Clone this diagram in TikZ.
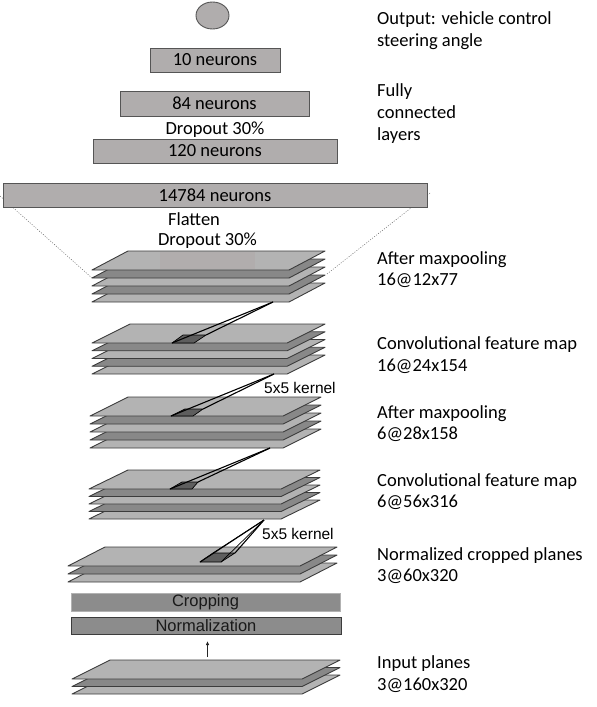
\documentclass[tikz,border=0pt]{standalone}
\usepackage{fontspec}
\setmainfont{Carlito}
\newfontfamily\arialf{Liberation Sans}
\usetikzlibrary{arrows.meta,shapes.geometric,calc}
\definecolor{planelight}{HTML}{B3B3B3}
\definecolor{planedark}{HTML}{888888}
\definecolor{planeedge}{HTML}{3C3C3C}
\definecolor{boxfill}{HTML}{B0ADAD}
\definecolor{boxedge}{HTML}{555555}
\definecolor{procfill}{HTML}{8C8C8C}
\definecolor{kernelfill}{HTML}{5E5E5E}
\definecolor{ghostfill}{HTML}{B1ADAD}
\newcommand{\planestack}[6]{%
  \foreach \i in {#5,...,0}{%
    \pgfmathtruncatemacro{\odd}{mod(\i,2)}%
    \ifnum\odd=1 \def\pcol{planedark}\else\def\pcol{planelight}\fi
    \filldraw[planeshape, fill=\pcol] (#1,{#3+\i*#6}) -- (#2,{#3+\i*#6}) -- ({#2-#4},{#3+19+\i*#6}) -- ({#1-#4},{#3+19+\i*#6}) -- cycle;
  }}
\begin{document}
\begin{tikzpicture}[x=1pt,y=-1pt,
  planeshape/.style={draw=planeedge, line width=0.9pt, line join=round},
  nbox/.style={draw=boxedge, fill=boxfill, line width=0.9pt, inner sep=0pt, font=\fontsize{18.5}{21.5}\selectfont},
  pbox/.style={fill=procfill, inner sep=0pt, font=\arialf\fontsize{16.5}{18}\selectfont, text=black!90},
  lbl/.style={anchor=base west, inner sep=0pt, font=\fontsize{18.5}{21.5}\selectfont},
  midtxt/.style={anchor=base, inner sep=0pt, font=\fontsize{18.5}{21.5}\selectfont},
  ktxt/.style={anchor=base west, inner sep=0pt, font=\arialf\fontsize{15.5}{18}\selectfont},
  kernel/.style={fill=kernelfill, draw=black, line width=0.7pt, line join=round},
  kline/.style={draw=black, line width=1.1pt},
  proj/.style={draw=black!60, line width=0.5pt, dash pattern=on 1pt off 1.5pt}]
\useasboundingbox (0,0) rectangle (597,707);

% projection lines
\coordinate (pl1) at (0,196);
\coordinate (pl2) at (92,278);
\coordinate (pr1) at (430,193);
\coordinate (pr2) at (327,274);
\draw[proj] (pl1) -- (pl2);
\draw[proj] (pr1) -- (pr2);

% output and dense layers
\node[ellipse, draw=boxedge, fill=boxfill, line width=0.9pt, minimum width=33pt, minimum height=27pt, inner sep=0pt] (out) at (212.5,15.5) {};
\node[nbox, minimum width=130pt, minimum height=24pt] (n10) at (215,60) {10 neurons};
\node[nbox, minimum width=189pt, minimum height=25pt] (n84) at (214.5,103.5) {84 neurons};
\node[midtxt] (drop1) at (215,134) {Dropout 30\%};
\node[nbox, minimum width=244pt, minimum height=24pt] (n120) at (215,151) {120 neurons};
\node[nbox, minimum width=424pt, minimum height=24pt] (n14784) at (215,195) {14784 neurons};
\node[midtxt] (flat) at (194,225) {Flatten};
\node[midtxt] (drop2) at (207.5,245) {Dropout 30\%};

% feature map stacks
\planestack{128}{325}{251}{36}{4}{8}
\fill[ghostfill] (160,251.6) rectangle (255,269.4);
\planestack{130}{325}{324}{38}{4}{7.75}
\planestack{128}{321}{397}{38}{4}{8}
\planestack{128}{320}{470}{39}{4}{7.5}
\planestack{105}{337}{547}{37}{2}{8}
\planestack{110}{340}{660}{38}{2}{7.5}

% kernels
\coordinate (k1a) at (273,302);
\coordinate (k1bl) at (172,343); \coordinate (k1br) at (194,343);
\coordinate (k1tr) at (206,335); \coordinate (k1tl) at (183,335);
\filldraw[kernel] (k1bl) -- (k1br) -- (k1tr) -- (k1tl) -- cycle;
\draw[kline] (k1a) -- (k1bl);
\draw[kline] (k1a) -- (k1tr);

\coordinate (k2a) at (274,374);
\coordinate (k2bl) at (171,416); \coordinate (k2br) at (193,416);
\coordinate (k2tr) at (203,409); \coordinate (k2tl) at (185,409);
\filldraw[kernel] (k2bl) -- (k2br) -- (k2tr) -- (k2tl) -- cycle;
\draw[kline] (k2a) -- (k2bl);
\draw[kline] (k2a) -- (k2tr);

\coordinate (k3a) at (270,448);
\coordinate (k3bl) at (170,489); \coordinate (k3br) at (192,489);
\coordinate (k3tr) at (198,482); \coordinate (k3tl) at (182,482);
\filldraw[kernel] (k3bl) -- (k3br) -- (k3tr) -- (k3tl) -- cycle;
\draw[kline] (k3a) -- (k3bl);
\draw[kline] (k3a) -- (k3tr);

\coordinate (k4a) at (264,520);
\coordinate (k4bl) at (200,562); \coordinate (k4br) at (221,562);
\coordinate (k4tr) at (235,553); \coordinate (k4tl) at (213,553);
\filldraw[kernel] (k4bl) -- (k4br) -- (k4tr) -- (k4tl) -- cycle;
\draw[kline] (k4a) -- (k4bl);
\draw[kline, line width=0.7pt] (k4a) -- (k4tl);
\draw[kline, line width=0.7pt] (k4a) -- (k4br);
\draw[kline] (k4a) -- (k4tr);

\node[ktxt] (kt1) at (264,393.5) {5x5 kernel};
\node[ktxt] (kt2) at (262,539.5) {5x5 kernel};

% preprocessing
\node[pbox, draw=black!30, line width=0.7pt, minimum width=269pt, minimum height=18pt] (crop) at (205.5,602) {Cropping};
\node[pbox, draw=planeedge, line width=0.9pt, minimum width=270pt, minimum height=17pt] (norm) at (206,625.5) {Normalization};
\coordinate (arr1) at (207.5,657);
\coordinate (arr2) at (207.5,641);
\draw[-{Latex[length=4pt,width=3.5pt]}, line width=1.2pt, black!85] (arr1) -- (arr2);

% right labels
\node[lbl] (l1a) at (377,24) {Output: vehicle control};
\node[lbl] (l1b) at (377,46) {steering angle};
\node[lbl] (l2a) at (377,96) {Fully};
\node[lbl] (l2b) at (377,118) {connected};
\node[lbl] (l2c) at (377,140) {layers};
\node[lbl] (l3a) at (377,264) {After maxpooling};
\node[lbl] (l3b) at (377,285) {16@12x77};
\node[lbl] (l4a) at (377,349) {Convolutional feature map};
\node[lbl] (l4b) at (377,371) {16@24x154};
\node[lbl] (l5a) at (377,418) {After maxpooling};
\node[lbl] (l5b) at (377,439) {6@28x158};
\node[lbl] (l6a) at (377,486) {Convolutional feature map};
\node[lbl] (l6b) at (377,507) {6@56x316};
\node[lbl] (l7a) at (377,560) {Normalized cropped planes};
\node[lbl] (l7b) at (377,581) {3@60x320};
\node[lbl] (l8a) at (377,668) {Input planes};
\node[lbl] (l8b) at (377,690) {3@160x320};
\end{tikzpicture}
\end{document}
